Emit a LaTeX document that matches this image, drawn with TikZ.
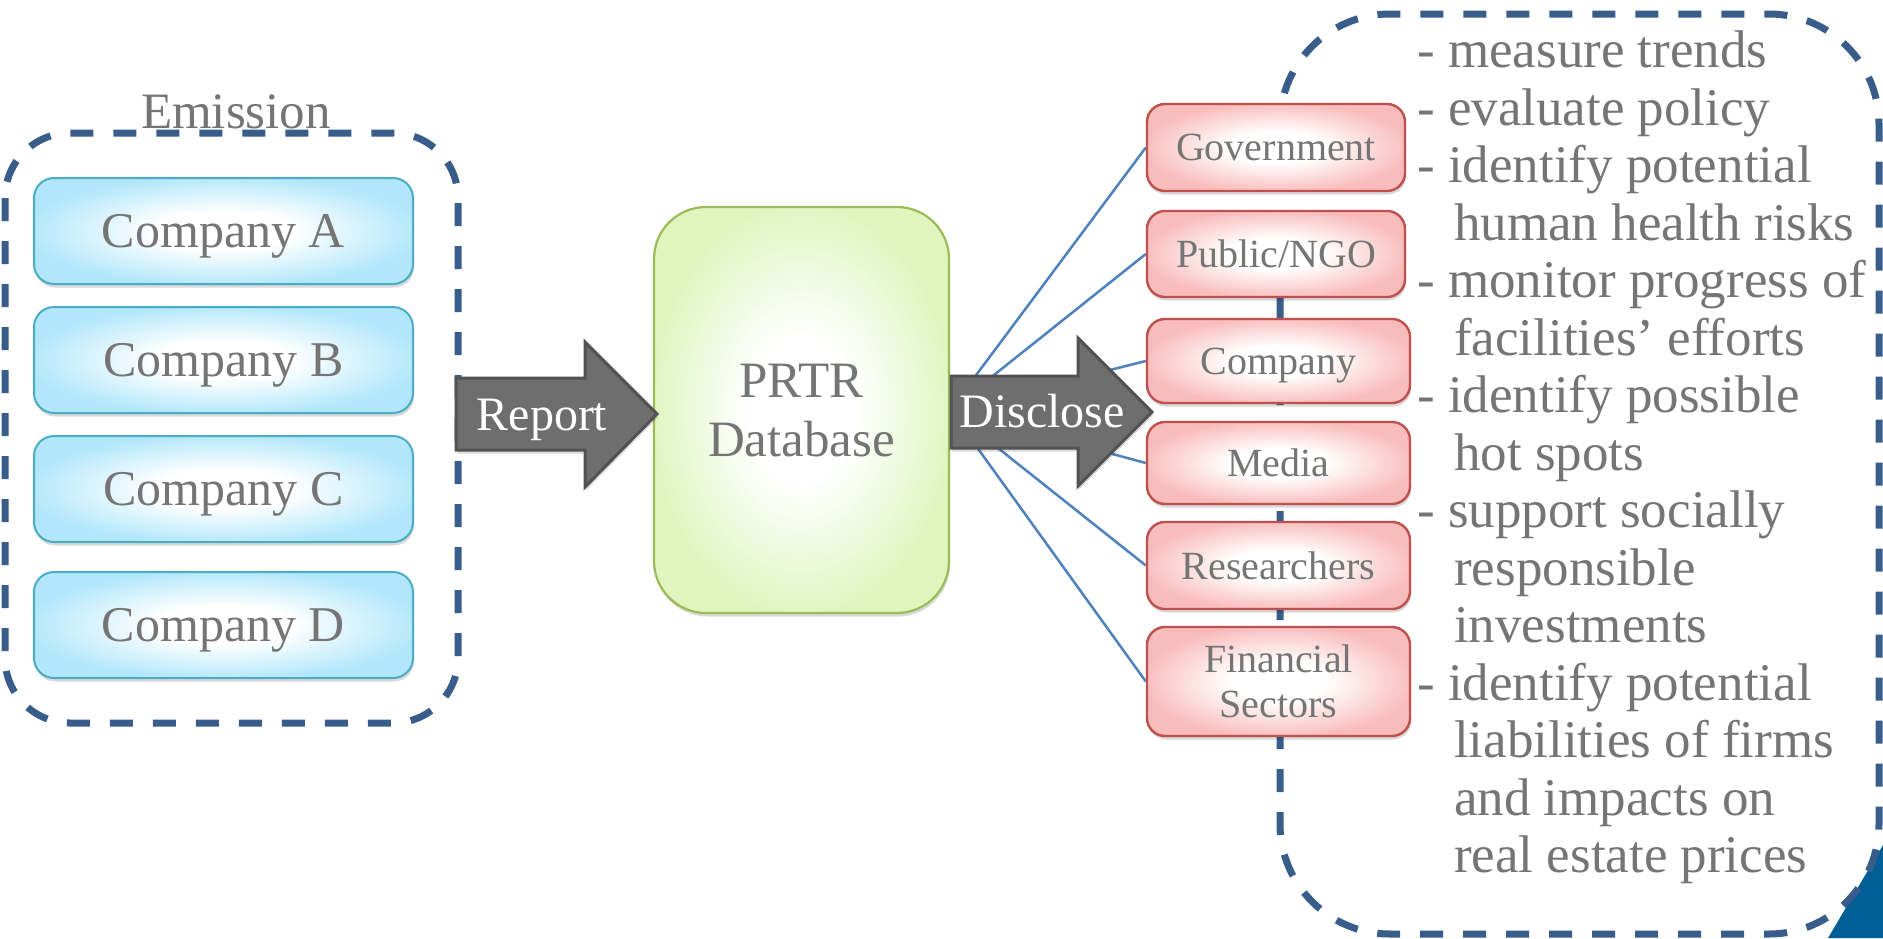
\documentclass[tikz,border=0pt]{standalone}
\usepackage{fontspec}
\setmainfont{Liberation Serif}
\usetikzlibrary{shadows,backgrounds}
\definecolor{dashblue}{RGB}{56,93,138}
\definecolor{txtgray}{RGB}{117,117,117}
\definecolor{cyanborder}{RGB}{75,172,198}
\definecolor{cyanfill}{RGB}{178,231,251}
\definecolor{greenborder}{RGB}{155,187,89}
\definecolor{greenfill}{RGB}{222,245,190}
\definecolor{redborder}{RGB}{192,80,77}
\definecolor{redfill}{RGB}{249,188,188}
\definecolor{arrowfill}{RGB}{110,110,110}
\definecolor{arrowborder}{RGB}{82,82,82}
\definecolor{linkblue}{RGB}{79,129,189}
\definecolor{cornerblue}{RGB}{0,94,150}
\pgfdeclareradialshading{cyangrad}{\pgfpoint{0bp}{0bp}}{color(0bp)=(white); color(9bp)=(white); color(26bp)=(cyanfill); color(50bp)=(cyanfill)}
\pgfdeclareradialshading{greengrad}{\pgfpoint{0bp}{0bp}}{color(0bp)=(white); color(9bp)=(white); color(26bp)=(greenfill); color(50bp)=(greenfill)}
\pgfdeclareradialshading{redgrad}{\pgfpoint{0bp}{0bp}}{color(0bp)=(white); color(9bp)=(white); color(26bp)=(redfill); color(50bp)=(redfill)}
\tikzset{
  softshadow/.style={drop shadow={shadow xshift=1pt, shadow yshift=-3.5pt, opacity=0.15, fill=black}},
  dashframe/.style={draw=dashblue, line width=7pt, dash pattern=on 23pt off 20pt},
  companybox/.style={draw=cyanborder, line width=2pt, shading=cyangrad, softshadow,
    rounded corners=20pt, minimum width=379pt, minimum height=106pt, inner sep=0pt,
    text depth=0pt, text=txtgray, font=\fontsize{50}{60}\selectfont},
  dbbox/.style={draw=greenborder, line width=2.2pt, shading=greengrad, softshadow,
    rounded corners=52pt, minimum width=295pt, minimum height=406pt, inner sep=0pt,
    text depth=0pt, align=center, text=txtgray, font=\fontsize{51}{59}\selectfont},
  userbox/.style={draw=redborder, line width=2.4pt, shading=redgrad, softshadow,
    rounded corners=18pt, inner sep=0pt, text depth=0pt, align=center,
    text=txtgray, font=\fontsize{40}{45}\selectfont},
  bigarrow/.style={fill=arrowfill, draw=arrowborder, line width=3pt, line join=miter, softshadow},
  arrowtext/.style={text=white, inner sep=0pt, font=\fontsize{48}{56}\selectfont},
  link/.style={draw=linkblue, line width=2.5pt},
  plain/.style={text=txtgray, inner sep=0pt}
}
\begin{document}
\begin{tikzpicture}[x=1pt,y=-1pt]
\useasboundingbox (0,0) rectangle (1883,938);
\begin{scope}[on background layer]
\fill[white] (0,0) rectangle (1883,938);
\fill[cornerblue] (1828,938) -- (1883,845) -- (1883,938) -- cycle;
\draw[dashframe, rounded corners=110pt] (1280,14) rectangle (1879,934);
\draw[dashframe, rounded corners=65pt] (5,133) rectangle (458,723);
\end{scope}
\node[plain, anchor=base, font=\fontsize{51}{60}\selectfont] (emission) at (236,128) {Emission};
% companies
\node[companybox] (compA) at (223.5,231) {Company A};
\node[companybox] (compB) at (223.5,360) {Company B};
\node[companybox] (compC) at (223.5,489) {Company C};
\node[companybox] (compD) at (223.5,625) {Company D};
% database
\node[dbbox] (prtr) at (801.5,410) {PRTR\\Database};
% users
\node[userbox, minimum width=258pt, minimum height=87pt] (gov) at (1276,147.5) {Government};
\node[userbox, minimum width=258pt, minimum height=86pt] (pub) at (1276,254) {Public/NGO};
\node[userbox, minimum width=263pt, minimum height=84pt] (comp) at (1278.5,361) {Company};
\node[userbox, minimum width=263pt, minimum height=82pt] (media) at (1278.5,463) {Media};
\node[userbox, minimum width=263pt, minimum height=87pt] (res) at (1278.5,565.5) {Researchers};
\node[userbox, minimum width=263pt, minimum height=109pt] (fin) at (1278.5,681.5) {Financial\\Sectors};
% links (behind boxes and arrow)
\begin{scope}[on background layer]
\foreach \t in {gov,pub,comp,media,res,fin}{
  \draw[link] (prtr.east) -- (\t.west);
}
\end{scope}
% arrows
\draw[bigarrow] (456,378) -- (585,378) -- (585,342) -- (657,414) -- (585,487) -- (585,450) -- (456,450) -- cycle;
\node[arrowtext, anchor=base] (report) at (542,430) {Report};
\draw[bigarrow] (951,376) -- (1078,376) -- (1078,338) -- (1152,412) -- (1078,486) -- (1078,448) -- (951,448) -- cycle;
\node[arrowtext, anchor=base] (disclose) at (1042,427) {Disclose};
% uses
\node[plain, anchor=north west, align=left, font=\fontsize{53}{57.5}\selectfont] (uses) at (1417,31) {%
- measure trends\\
- evaluate policy\\
- identify potential\\
\hspace*{37pt}human health risks\\
- monitor progress of\\
\hspace*{37pt}facilities’ efforts\\
- identify possible\\
\hspace*{37pt}hot spots\\
- support socially\\
\hspace*{37pt}responsible\\
\hspace*{37pt}investments\\
- identify potential\\
\hspace*{37pt}liabilities of firms\\
\hspace*{37pt}and impacts on\\
\hspace*{37pt}real estate prices};
\end{tikzpicture}
\end{document}
